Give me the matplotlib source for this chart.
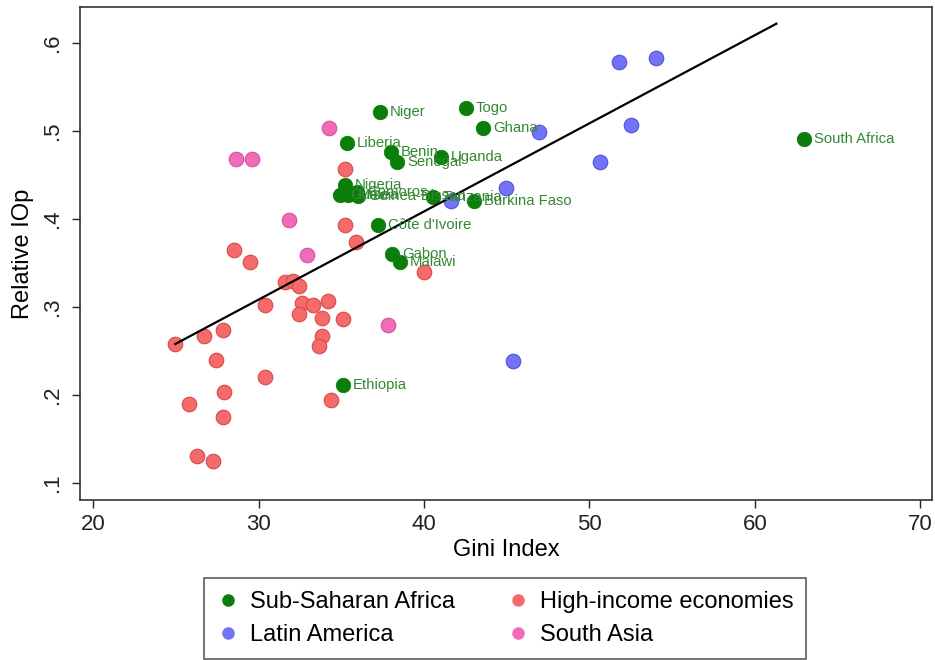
import numpy as np
import matplotlib
matplotlib.use('Agg')
import matplotlib.pyplot as plt
from matplotlib.lines import Line2D

plt.rcParams['font.family'] = ['Liberation Sans', 'DejaVu Sans']

# Sub-Saharan Africa (labelled)
ssa_names = ['Niger', 'Togo', 'Ghana', 'South Africa', 'Liberia', 'Benin', 'Senegal',
             'Uganda', 'Nigeria', 'Guinea', 'Mali', 'Comoros', 'Guinea-Bissau',
             'Tanzania', 'Burkina Faso', "Côte d'Ivoire", 'Gabon', 'Malawi', 'Ethiopia']
ssa_gini = [37.35, 42.55, 43.58, 63.0, 35.36, 38.0, 38.38,
            41.04, 35.24, 34.93, 35.42, 35.96, 36.02,
            40.56, 43.04, 37.23, 38.08, 38.56, 35.1]
ssa_iop = [0.522, 0.526, 0.503, 0.491, 0.487, 0.476, 0.465,
           0.470, 0.439, 0.427, 0.427, 0.431, 0.426,
           0.425, 0.420, 0.393, 0.360, 0.351, 0.211]

# High-income economies
hi_gini = [24.96, 26.7, 27.86, 28.5, 29.5, 27.4, 30.4, 30.4, 27.9, 25.8, 27.86, 26.3, 27.26,
           31.6, 32.1, 32.45, 32.6, 33.3, 34.2, 32.45, 33.8, 35.1, 33.8, 33.66, 34.4,
           35.9, 40.0, 35.2, 35.24]
hi_iop = [0.258, 0.267, 0.274, 0.365, 0.351, 0.240, 0.302, 0.221, 0.204, 0.190, 0.175, 0.131, 0.125,
          0.328, 0.330, 0.324, 0.305, 0.302, 0.307, 0.292, 0.287, 0.286, 0.267, 0.256, 0.194,
          0.374, 0.340, 0.457, 0.393]

# Latin America
la_gini = [51.8, 54.0, 46.96, 52.5, 50.65, 44.97, 41.6, 45.4]
la_iop = [0.578, 0.583, 0.499, 0.507, 0.465, 0.435, 0.420, 0.239]

# South Asia
sa_gini = [34.27, 28.65, 29.6, 31.85, 32.9, 37.8]
sa_iop = [0.504, 0.468, 0.468, 0.399, 0.359, 0.280]

# fitted line end points
fit_x = [24.96, 61.3]
fit_y = [0.258, 0.622]

c_ssa = '#0a7d0a'
c_hi = '#f56b6b'
c_la = '#7373f5'
c_sa = '#f06cb8'

fig = plt.figure(figsize=(9.35, 6.6), dpi=100)
ax = fig.add_axes([0.0856, 0.2424, 0.911, 0.747])

ax.scatter(hi_gini, hi_iop, s=110, color=c_hi, edgecolor='#d84848', linewidth=0.8, zorder=2)
ax.scatter(sa_gini, sa_iop, s=110, color=c_sa, edgecolor='#d8509c', linewidth=0.8, zorder=2)
ax.scatter(la_gini, la_iop, s=110, color=c_la, edgecolor='#5050e0', linewidth=0.8, zorder=2)
ax.scatter(ssa_gini, ssa_iop, s=110, color=c_ssa, edgecolor=c_ssa, linewidth=0.5, zorder=3)
for name, gx, gy in zip(ssa_names, ssa_gini, ssa_iop):
    ax.annotate(name, (gx, gy), xytext=(7, 0), textcoords='offset points',
                va='center', ha='left', fontsize=10.7, color='#338833', zorder=4)

ax.plot(fit_x, fit_y, color='black', linewidth=1.6, zorder=3)

ax.set_xlim(19.2, 70.7)
ax.set_ylim(0.0807, 0.641)
ax.set_xticks([20, 30, 40, 50, 60, 70])
ax.set_yticks([0.1, 0.2, 0.3, 0.4, 0.5, 0.6])
ax.set_yticklabels(['.1', '.2', '.3', '.4', '.5', '.6'], rotation=90, va='center')
ax.tick_params(axis='both', labelsize=16, direction='out', length=6, width=1, colors='#222222')
ax.tick_params(axis='y', pad=6)
ax.tick_params(axis='x', pad=4)
for sp in ax.spines.values():
    sp.set_color('#333333')
    sp.set_linewidth(1.2)
ax.set_xlabel('Gini Index', fontsize=17, labelpad=3)
ax.set_ylabel('Relative IOp', fontsize=17, labelpad=6)

handles = [
    Line2D([], [], marker='o', linestyle='', markersize=8, color=c_ssa, label='Sub-Saharan Africa'),
    Line2D([], [], marker='o', linestyle='', markersize=8, color=c_la, label='Latin America'),
    Line2D([], [], marker='o', linestyle='', markersize=8, color=c_hi, label='High-income economies'),
    Line2D([], [], marker='o', linestyle='', markersize=8, color=c_sa, label='South Asia'),
]
leg = fig.legend(handles=handles, ncol=2, loc='lower center', bbox_to_anchor=(0.54, -0.016),
                 fontsize=17, frameon=True, fancybox=False, edgecolor='#333333',
                 handletextpad=0.4, columnspacing=2.2, labelspacing=0.45, borderpad=0.55,
                 handlelength=1.0)
leg.get_frame().set_linewidth(1.2)

fig.savefig('out.png', dpi=100, facecolor='white')
